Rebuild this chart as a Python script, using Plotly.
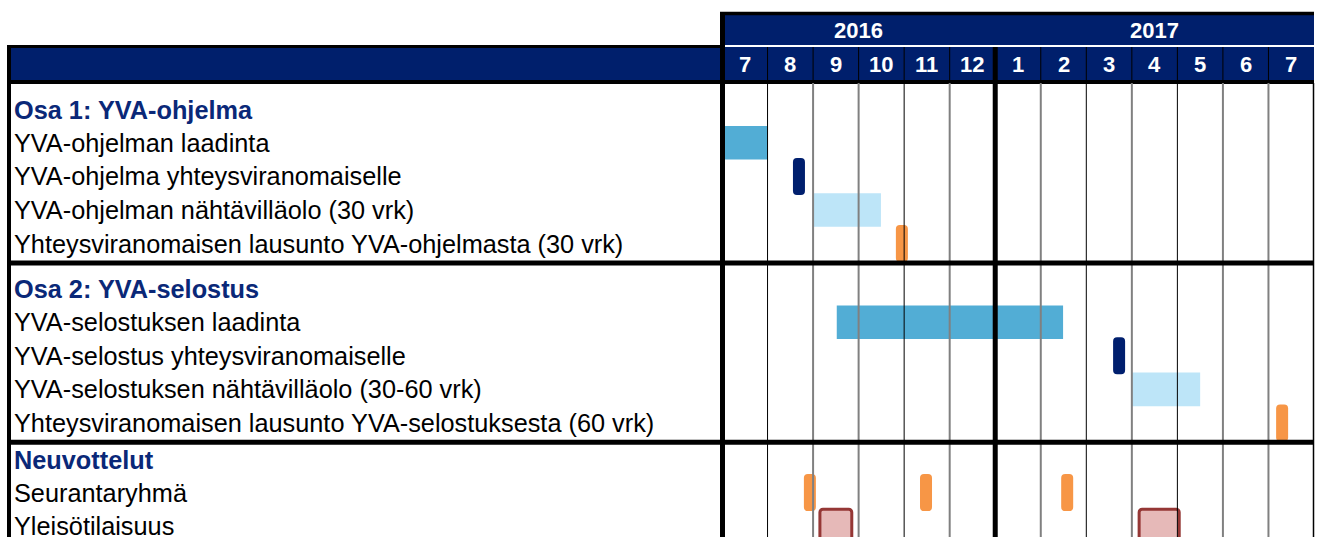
import plotly.graph_objects as go

# ---------------- data ----------------
YEARS = ["2016", "2017"]
YEAR_MONTH_COUNT = [6, 7]
MONTH_LABELS = ["7", "8", "9", "10", "11", "12", "1", "2", "3", "4", "5", "6", "7"]

SECTIONS = ["Osa 1: YVA-ohjelma", "Osa 2: YVA-selostus", "Neuvottelut"]
TASKS = [
    ["YVA-ohjelman laadinta",
     "YVA-ohjelma yhteysviranomaiselle",
     "YVA-ohjelman nähtävilläolo (30 vrk)",
     "Yhteysviranomaisen lausunto YVA-ohjelmasta (30 vrk)"],
    ["YVA-selostuksen laadinta",
     "YVA-selostus yhteysviranomaiselle",
     "YVA-selostuksen nähtävilläolo (30-60 vrk)",
     "Yhteysviranomaisen lausunto YVA-selostuksesta (60 vrk)"],
    ["Seurantaryhmä",
     "Yleisötilaisuus"],
]

# time values in months counted from the start of July 2016
WORK_TASKS = ["YVA-ohjelman laadinta", "YVA-selostuksen laadinta"]
WORK_START = [0.0, 2.52]
WORK_END = [1.0, 7.49]

DISPLAY_TASKS = ["YVA-ohjelman nähtävilläolo (30 vrk)", "YVA-selostuksen nähtävilläolo (30-60 vrk)"]
DISPLAY_START = [2.0, 9.0]
DISPLAY_END = [3.49, 10.5]

SUBMIT_TASKS = ["YVA-ohjelma yhteysviranomaiselle", "YVA-selostus yhteysviranomaiselle"]
SUBMIT_AT = [1.69, 8.72]

STATEMENT_TASKS = ["Yhteysviranomaisen lausunto YVA-ohjelmasta (30 vrk)",
                   "Yhteysviranomaisen lausunto YVA-selostuksesta (60 vrk)",
                   "Seurantaryhmä", "Seurantaryhmä", "Seurantaryhmä"]
STATEMENT_AT = [3.95, 12.3, 1.93, 4.48, 7.58]

EVENT_TASKS = ["Yleisötilaisuus", "Yleisötilaisuus"]
EVENT_START = [2.15, 9.16]
EVENT_END = [2.85, 10.04]

# ---------------- layout constants ----------------
W, H = 1319, 537
ML, MR, MT, MB = 722, 5, 83, 0
PW, PH = W - ML - MR, H - MT - MB
N_MONTHS = len(MONTH_LABELS)

HEADER_H = [43, 40, 31]
ROW_H = 33.6
SEP = 5
MS_W = 0.2635      # milestone width (months)
MS_H = 37
EV_H = 36
LABEL_SIZE = 25.3
HEAD_SIZE = 22

NAVY = "#001F6C"
TITLE_BLUE = "#0A2878"
MID_BLUE = "#52ADD5"
LIGHT_BLUE = "#BDE5F8"
MS_NAVY = "#001F6E"
ORANGE = "#F79646"
PINK = "#E6B9B8"
DARK_RED = "#953735"
GRAY = "#808080"
FONT = "Liberation Sans, Arial, sans-serif"

# grid line style for each month boundary 1..12
GRID_STYLE = ["k", "g", "g", "k", "g", "thick", "g", "k", "g", "k", "g", "g"]


def paper_x(px):
    return (px - ML) / PW


def paper_y(py):
    return (H - MB - py) / PH


# ---------------- row geometry ----------------
rows = []
separators = []
y = 0.0
for s, (title, tasks) in enumerate(zip(SECTIONS, TASKS)):
    if s > 0:
        separators.append(y + SEP / 2)
        y += SEP
    rows.append((title, "header", y, y + HEADER_H[s]))
    y += HEADER_H[s]
    for t in tasks:
        rows.append((t, "task", y, y + ROW_H))
        y += ROW_H

center = {r[0]: (r[2] + r[3]) / 2 for r in rows if r[1] == "task"}

fig = go.Figure()

# wide bars
fig.add_trace(go.Bar(
    orientation="h",
    y=[center[t] for t in WORK_TASKS],
    x=[e - s for s, e in zip(WORK_START, WORK_END)],
    base=WORK_START,
    width=[ROW_H] * len(WORK_TASKS),
    marker=dict(color=MID_BLUE, line=dict(width=0)),
    hoverinfo="skip",
))
fig.add_trace(go.Bar(
    orientation="h",
    y=[center[t] for t in DISPLAY_TASKS],
    x=[e - s for s, e in zip(DISPLAY_START, DISPLAY_END)],
    base=DISPLAY_START,
    width=[ROW_H] * len(DISPLAY_TASKS),
    marker=dict(color=LIGHT_BLUE, line=dict(width=0)),
    hoverinfo="skip",
))
# milestones
fig.add_trace(go.Bar(
    orientation="v",
    x=SUBMIT_AT,
    y=[MS_H] * len(SUBMIT_AT),
    base=[center[t] - MS_H / 2 for t in SUBMIT_TASKS],
    width=[MS_W] * len(SUBMIT_AT),
    marker=dict(color=MS_NAVY, line=dict(width=0), cornerradius=4),
    hoverinfo="skip",
))
fig.add_trace(go.Bar(
    orientation="v",
    x=STATEMENT_AT,
    y=[MS_H] * len(STATEMENT_AT),
    base=[center[t] - MS_H / 2 for t in STATEMENT_TASKS],
    width=[MS_W] * len(STATEMENT_AT),
    marker=dict(color=ORANGE, line=dict(width=0), cornerradius=4),
    hoverinfo="skip",
))
# events
fig.add_trace(go.Bar(
    orientation="v",
    x=[(s + e) / 2 for s, e in zip(EVENT_START, EVENT_END)],
    y=[EV_H] * len(EVENT_START),
    base=[center[t] - EV_H / 2 + 1 for t in EVENT_TASKS],
    width=[e - s for s, e in zip(EVENT_START, EVENT_END)],
    marker=dict(color=PINK, line=dict(width=3, color=DARK_RED), cornerradius=3),
    hoverinfo="skip",
))

shapes = []
# header bands
shapes.append(dict(type="rect", xref="paper", yref="paper", x0=0, x1=1,
                   y0=paper_y(45), y1=paper_y(13), fillcolor=NAVY, line_width=0, layer="below"))
shapes.append(dict(type="rect", xref="paper", yref="paper", x0=paper_x(8), x1=1,
                   y0=paper_y(80), y1=paper_y(47), fillcolor=NAVY, line_width=0, layer="below"))
# header borders
shapes.append(dict(type="line", xref="paper", yref="paper", x0=paper_x(720), x1=1,
                   y0=paper_y(13.5), y1=paper_y(13.5), line=dict(color="black", width=3.5)))
shapes.append(dict(type="line", xref="paper", yref="paper", x0=paper_x(7), x1=paper_x(722),
                   y0=paper_y(46.5), y1=paper_y(46.5), line=dict(color="black", width=3)))
shapes.append(dict(type="line", xref="paper", yref="paper", x0=paper_x(7), x1=1,
                   y0=paper_y(82), y1=paper_y(82), line=dict(color="black", width=4)))
# month dividers in header and grid lines
for k, style in enumerate(GRID_STYLE, start=1):
    if style == "thick":
        shapes.append(dict(type="line", xref="x", yref="paper", x0=k, x1=k,
                           y0=0, y1=paper_y(47), line=dict(color="black", width=5), layer="above"))
        continue
    shapes.append(dict(type="line", xref="x", yref="paper", x0=k, x1=k,
                       y0=paper_y(80), y1=paper_y(47), line=dict(color="black", width=1)))
    color, width = ("black", 1) if style == "k" else (GRAY, 2)
    shapes.append(dict(type="line", xref="x", yref="paper", x0=k, x1=k,
                       y0=0, y1=paper_y(83), line=dict(color=color, width=width), layer="above"))
# outer borders
shapes.append(dict(type="line", xref="paper", yref="paper", x0=paper_x(9), x1=paper_x(9),
                   y0=0, y1=paper_y(45), line=dict(color="black", width=4)))
shapes.append(dict(type="line", xref="paper", yref="paper", x0=paper_x(722.5), x1=paper_x(722.5),
                   y0=0, y1=paper_y(12), line=dict(color="black", width=5)))
shapes.append(dict(type="line", xref="paper", yref="paper", x0=paper_x(1313.5), x1=paper_x(1313.5),
                   y0=0, y1=paper_y(83), line=dict(color="black", width=1.5)))
# section separators
for sy in separators:
    shapes.append(dict(type="line", xref="paper", yref="y", x0=paper_x(7), x1=1,
                       y0=sy, y1=sy, line=dict(color="black", width=5), layer="above"))

annotations = []
# year labels
start = 0
for yr, n in zip(YEARS, YEAR_MONTH_COUNT):
    annotations.append(dict(x=start + n / 2, y=paper_y(30), xref="x", yref="paper",
                            text="<b>%s</b>" % yr, showarrow=False,
                            font=dict(family=FONT, size=HEAD_SIZE, color="white"),
                            xanchor="center", yanchor="middle"))
    start += n
# month labels
for i, m in enumerate(MONTH_LABELS):
    annotations.append(dict(x=i + 0.5, y=paper_y(64), xref="x", yref="paper",
                            text="<b>%s</b>" % m, showarrow=False,
                            font=dict(family=FONT, size=HEAD_SIZE, color="white"),
                            xanchor="center", yanchor="middle"))
# row labels
for label, kind, top, bottom in rows:
    if kind == "header":
        annotations.append(dict(x=paper_x(12), y=bottom - 16, xref="paper", yref="y",
                                text="<b>%s</b>" % label, showarrow=False,
                                font=dict(family=FONT, size=LABEL_SIZE, color=TITLE_BLUE),
                                xanchor="left", yanchor="middle"))
    else:
        annotations.append(dict(x=paper_x(12), y=(top + bottom) / 2, xref="paper", yref="y",
                                text=label, showarrow=False,
                                font=dict(family=FONT, size=LABEL_SIZE, color="black"),
                                xanchor="left", yanchor="middle"))

fig.update_layout(
    width=W, height=H,
    margin=dict(l=ML, r=MR, t=MT, b=MB, pad=0),
    paper_bgcolor="white", plot_bgcolor="white",
    barmode="overlay",
    showlegend=False,
    xaxis=dict(range=[0, N_MONTHS], visible=False, fixedrange=True),
    yaxis=dict(range=[PH, 0], visible=False, fixedrange=True),
    shapes=shapes,
    annotations=annotations,
)

fig.write_html("out.html", config={"displayModeBar": False},
               post_script="document.body.style.margin='0';")
